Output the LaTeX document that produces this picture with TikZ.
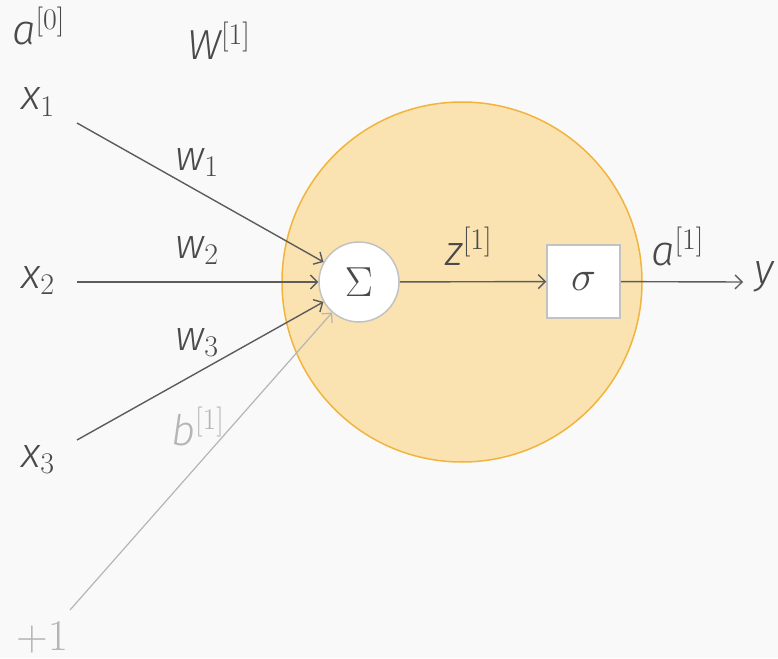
\RequirePackage{fix-cm}
\documentclass[tikz,border=0pt]{standalone}
\usepackage{fontspec}
\usetikzlibrary{arrows.meta}
\newfontfamily\mfont{Fira Sans}[ItalicFont={Fira Sans Light Italic}]
\newcommand{\mv}[1]{{\mfont\itshape #1}}
\DeclareMathSizes{42}{42}{30}{22}
\DeclareMathSizes{44}{44}{31}{22}
\definecolor{txt}{HTML}{4A4A4A}
\definecolor{lgray}{HTML}{B5B5B5}
\definecolor{bg}{HTML}{F9F9F9}
\definecolor{neuronfill}{HTML}{FAE3B1}
\definecolor{neuronline}{HTML}{F2B43C}
\definecolor{boxline}{HTML}{C2C2C2}
\begin{document}
\begin{tikzpicture}[x=1pt,y=-1pt,
  lbl/.style={inner sep=0pt, anchor=base west, text=txt, font=\fontsize{42}{46}\selectfont},
  glbl/.style={lbl, text=lgray},
  conn/.style={draw=txt!90, line width=1.4pt, -{Straight Barb[length=7pt,width=14pt]}},
  gconn/.style={conn, draw=lgray, line width=1.2pt}]
\useasboundingbox (0,0) rectangle (778,658);
\fill[bg] (0,0) rectangle (778,658);
% neuron body
\node[circle, minimum size=360pt, inner sep=0pt, fill=neuronfill, draw=neuronline, line width=1.5pt] (neuron) at (462,282) {};
% summation and activation
\node[circle, minimum size=80pt, inner sep=0pt, fill=white, draw=boxline, line width=1.5pt, text=txt, font=\fontsize{42}{46}\selectfont] (sum) at (359,282) {$\Sigma$};
\node[rectangle, minimum size=73pt, inner sep=0pt, fill=white, draw=boxline, line width=1.5pt, text=txt, font=\fontsize{42}{46}\selectfont] (act) at (583.5,281.5) {$\sigma$};
% labels
\node[lbl] (a0) at (12,45) {\mv{a}$^{[0]}$};
\node[lbl] (W1) at (187,60) {\mv{W}$^{[1]}$};
\node[lbl] (x1) at (21,110) {\mv{x}$_1$};
\node[lbl] (x2) at (21,288) {\mv{x}$_2$};
\node[lbl] (x3) at (21,467) {\mv{x}$_3$};
\node[lbl] (w1) at (175,170) {\mv{w}$_1$};
\node[lbl] (w2) at (175,258) {\mv{w}$_2$};
\node[lbl] (w3) at (175,350) {\mv{w}$_3$};
\node[glbl] (b1) at (171,445) {\mv{b}$^{[1]}$};
\node[glbl, font=\fontsize{44}{48}\selectfont] (one) at (16,650) {$+1$};
\node[lbl] (z1) at (445,265) {\mv{z}$^{[1]}$};
\node[lbl] (a1) at (651,265) {\mv{a}$^{[1]}$};
\node[lbl] (y) at (754,283) {\mv{y}};
% connector start/end points
\coordinate (s1) at (77,123);
\coordinate (s2) at (77,282);
\coordinate (s3) at (77,440);
\coordinate (sb) at (70,610);
\coordinate (yend) at (743,282);
% connectors
\draw[conn] (s1) -- (sum);
\draw[conn] (s2) -- (sum);
\draw[conn] (s3) -- (sum);
\draw[gconn] (sb) -- (sum);
\draw[conn] (sum) -- (act);
\draw[conn] (act) -- (yend);
\end{tikzpicture}
\end{document}
